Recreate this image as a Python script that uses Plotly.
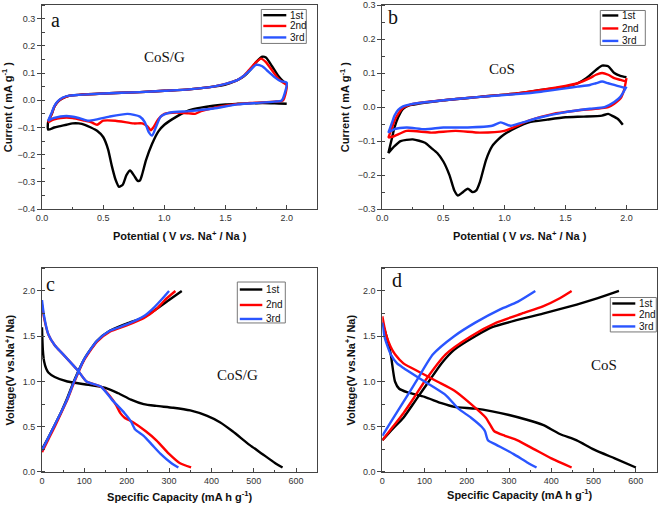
import plotly.graph_objects as go

W, H = 661, 505

# ---------------- Panel a : CV of CoS/G ----------------
a1_x = [2.0, 1.9, 1.8, 1.6, 1.5, 1.4, 1.3, 1.2, 1.1, 1.0, 0.95, 0.9, 0.85, 0.82, 0.8, 0.78, 0.75, 0.72, 0.69, 0.66, 0.63, 0.6, 0.57, 0.54, 0.5, 0.45, 0.4, 0.35, 0.3, 0.25, 0.2, 0.15, 0.1, 0.05,
        0.05, 0.08, 0.1, 0.13, 0.17, 0.22, 0.3, 0.5, 0.8, 1.0, 1.2, 1.4, 1.5, 1.6, 1.65, 1.7, 1.75, 1.8, 1.83, 1.88, 1.93, 1.97, 2.0]
a1_y = [-0.013, -0.011, -0.01, -0.013, -0.015, -0.02, -0.027, -0.037, -0.06, -0.09, -0.115, -0.16, -0.22, -0.27, -0.295, -0.295, -0.275, -0.258, -0.275, -0.31, -0.318, -0.29, -0.24, -0.18, -0.135, -0.112, -0.1, -0.09, -0.085, -0.085, -0.09, -0.095, -0.1, -0.108,
        -0.08, -0.05, -0.025, -0.005, 0.008, 0.016, 0.02, 0.025, 0.03, 0.035, 0.04, 0.05, 0.058, 0.075, 0.088, 0.11, 0.14, 0.16, 0.157, 0.125, 0.09, 0.07, 0.06]
a2_x = [2.0, 1.97, 1.9, 1.7, 1.5, 1.3, 1.25, 1.2, 1.1, 1.0, 0.95, 0.91, 0.89, 0.86, 0.82, 0.75, 0.6, 0.5, 0.45, 0.4, 0.35, 0.25, 0.15, 0.1, 0.05,
        0.05, 0.08, 0.1, 0.13, 0.17, 0.22, 0.3, 0.5, 0.8, 1.0, 1.2, 1.4, 1.5, 1.6, 1.65, 1.7, 1.75, 1.79, 1.83, 1.88, 1.93, 1.97, 2.0]
a2_y = [0.055, 0.0, -0.005, -0.01, -0.02, -0.04, -0.05, -0.048, -0.045, -0.05, -0.07, -0.1, -0.11, -0.095, -0.085, -0.085, -0.075, -0.075, -0.09, -0.08, -0.075, -0.065, -0.065, -0.07, -0.08,
        -0.08, -0.05, -0.025, -0.005, 0.008, 0.016, 0.02, 0.025, 0.03, 0.035, 0.04, 0.05, 0.06, 0.075, 0.09, 0.115, 0.14, 0.153, 0.14, 0.11, 0.08, 0.065, 0.055]
a3_x = [2.0, 1.96, 1.9, 1.6, 1.4, 1.2, 1.05, 0.97, 0.93, 0.9, 0.87, 0.84, 0.8, 0.7, 0.55, 0.45, 0.38, 0.3, 0.2, 0.1, 0.05,
        0.05, 0.08, 0.1, 0.13, 0.17, 0.22, 0.3, 0.5, 0.8, 1.0, 1.2, 1.4, 1.5, 1.6, 1.65, 1.7, 1.75, 1.8, 1.85, 1.9, 1.95, 2.0]
a3_y = [0.065, 0.0, -0.005, -0.015, -0.03, -0.04, -0.045, -0.06, -0.1, -0.13, -0.115, -0.08, -0.06, -0.05, -0.06, -0.07, -0.075, -0.065, -0.058, -0.065, -0.075,
        -0.075, -0.045, -0.022, -0.003, 0.01, 0.017, 0.02, 0.025, 0.03, 0.035, 0.04, 0.05, 0.06, 0.075, 0.09, 0.11, 0.13, 0.125, 0.105, 0.085, 0.07, 0.065]

# ---------------- Panel b : CV of CoS ----------------
b1_x = [1.97, 1.93, 1.88, 1.85, 1.8, 1.65, 1.5, 1.35, 1.2, 1.1, 1.0, 0.95, 0.9, 0.85, 0.8, 0.77, 0.74, 0.7, 0.66, 0.62, 0.59, 0.55, 0.5, 0.45, 0.4, 0.35, 0.25, 0.15, 0.1, 0.05,
        0.05, 0.08, 0.1, 0.13, 0.17, 0.22, 0.3, 0.5, 0.8, 1.1, 1.3, 1.5, 1.6, 1.67, 1.72, 1.77, 1.8, 1.85, 1.9, 1.95, 2.0]
b1_y = [-0.052, -0.035, -0.025, -0.02, -0.025, -0.028, -0.03, -0.037, -0.045, -0.06, -0.08, -0.095, -0.115, -0.155, -0.22, -0.245, -0.25, -0.24, -0.25, -0.26, -0.245, -0.2, -0.16, -0.135, -0.12, -0.105, -0.095, -0.1, -0.115, -0.135,
        -0.135, -0.09, -0.06, -0.03, -0.005, 0.005, 0.01, 0.02, 0.03, 0.04, 0.05, 0.06, 0.07, 0.085, 0.1, 0.115, 0.122, 0.12, 0.1, 0.092, 0.088]
b2_x = [2.0, 1.98, 1.95, 1.9, 1.85, 1.6, 1.4, 1.2, 1.0, 0.8, 0.6, 0.4, 0.2, 0.1, 0.05,
        0.05, 0.08, 0.1, 0.13, 0.17, 0.22, 0.3, 0.5, 0.8, 1.1, 1.3, 1.5, 1.6, 1.7, 1.75, 1.8, 1.85, 1.9, 1.95, 2.0]
b2_y = [0.085, 0.05, 0.025, 0.01, 0.0, -0.01, -0.02, -0.04, -0.07, -0.075, -0.07, -0.075, -0.07, -0.085, -0.09,
        -0.09, -0.06, -0.04, -0.02, -0.002, 0.006, 0.012, 0.02, 0.03, 0.04, 0.05, 0.062, 0.07, 0.085, 0.095, 0.1, 0.095, 0.085, 0.08, 0.075]
b3_x = [2.0, 1.95, 1.9, 1.82, 1.7, 1.5, 1.3, 1.15, 1.05, 0.97, 0.9, 0.7, 0.5, 0.35, 0.2, 0.1, 0.05,
        0.05, 0.08, 0.1, 0.13, 0.17, 0.22, 0.3, 0.5, 0.8, 1.1, 1.3, 1.5, 1.6, 1.7, 1.75, 1.8, 1.85, 1.9, 1.95, 2.0]
b3_y = [0.06, 0.03, 0.015, 0.0, -0.005, -0.015, -0.03, -0.045, -0.055, -0.045, -0.055, -0.06, -0.06, -0.065, -0.06, -0.065, -0.075,
        -0.075, -0.045, -0.025, -0.008, 0.002, 0.007, 0.012, 0.02, 0.03, 0.038, 0.045, 0.055, 0.06, 0.065, 0.07, 0.075, 0.07, 0.065, 0.06, 0.055]

# ---------------- Panel c : charge/discharge of CoS/G ----------------
c1_dis_x = [0, 2, 5, 10, 15, 30, 60, 100, 150, 180, 210, 240, 270, 310, 350, 390, 420, 450, 490, 520, 550, 568]
c1_dis_y = [1.6, 1.35, 1.22, 1.14, 1.1, 1.05, 1.0, 0.97, 0.93, 0.87, 0.8, 0.75, 0.73, 0.71, 0.68, 0.62, 0.55, 0.45, 0.3, 0.2, 0.1, 0.05]
c1_ch_x = [0, 15, 30, 45, 60, 75, 100, 130, 160, 200, 240, 270, 300, 330]
c1_ch_y = [0.25, 0.38, 0.52, 0.66, 0.82, 1.0, 1.25, 1.45, 1.56, 1.64, 1.71, 1.8, 1.9, 2.0]
c2_dis_x = [0, 5, 15, 30, 50, 85, 105, 140, 160, 175, 185, 195, 215, 245, 270, 300, 325, 352]
c2_dis_y = [1.85, 1.7, 1.52, 1.4, 1.3, 1.12, 1.0, 0.94, 0.84, 0.74, 0.65, 0.6, 0.55, 0.45, 0.35, 0.2, 0.1, 0.05]
c2_ch_x = [0, 15, 30, 45, 60, 75, 100, 130, 160, 200, 240, 270, 290, 315]
c2_ch_y = [0.22, 0.36, 0.5, 0.65, 0.8, 0.98, 1.24, 1.44, 1.55, 1.62, 1.7, 1.8, 1.9, 2.0]
c3_dis_x = [0, 5, 15, 30, 50, 85, 105, 140, 165, 195, 210, 220, 240, 260, 280, 305, 322]
c3_dis_y = [1.9, 1.72, 1.52, 1.4, 1.3, 1.12, 1.0, 0.94, 0.8, 0.65, 0.56, 0.47, 0.4, 0.3, 0.2, 0.1, 0.05]
c3_ch_x = [0, 15, 30, 45, 60, 75, 100, 130, 160, 200, 240, 265, 285, 300]
c3_ch_y = [0.24, 0.38, 0.52, 0.66, 0.81, 0.99, 1.25, 1.45, 1.56, 1.63, 1.72, 1.82, 1.92, 2.0]

# ---------------- Panel d : charge/discharge of CoS ----------------
d1_dis_x = [0, 10, 20, 30, 40, 60, 100, 140, 170, 220, 260, 300, 340, 380, 420, 460, 500, 550, 600]
d1_dis_y = [1.65, 1.5, 1.3, 1.0, 0.92, 0.88, 0.83, 0.76, 0.72, 0.7, 0.67, 0.63, 0.58, 0.52, 0.42, 0.35, 0.25, 0.15, 0.05]
d1_ch_x = [0, 25, 50, 80, 110, 140, 170, 220, 260, 320, 380, 460, 510, 560]
d1_ch_y = [0.35, 0.48, 0.6, 0.8, 1.0, 1.2, 1.35, 1.5, 1.6, 1.68, 1.75, 1.85, 1.92, 2.0]
d2_dis_x = [0, 5, 10, 20, 30, 50, 90, 130, 170, 210, 245, 258, 265, 290, 320, 360, 400, 448]
d2_dis_y = [1.72, 1.6, 1.5, 1.38, 1.3, 1.2, 1.1, 1.0, 0.9, 0.75, 0.6, 0.5, 0.45, 0.4, 0.35, 0.25, 0.15, 0.05]
d2_ch_x = [0, 25, 50, 75, 100, 150, 210, 270, 330, 380, 420, 448]
d2_ch_y = [0.35, 0.5, 0.65, 0.82, 1.0, 1.3, 1.5, 1.65, 1.75, 1.83, 1.92, 2.0]
d3_dis_x = [0, 5, 10, 20, 35, 50, 100, 150, 180, 210, 235, 243, 250, 270, 310, 345, 365]
d3_dis_y = [1.65, 1.5, 1.42, 1.3, 1.2, 1.15, 1.0, 0.85, 0.7, 0.6, 0.5, 0.45, 0.35, 0.3, 0.2, 0.1, 0.05]
d3_ch_x = [0, 20, 40, 60, 80, 120, 170, 220, 280, 320, 362]
d3_ch_y = [0.4, 0.55, 0.7, 0.85, 1.0, 1.3, 1.5, 1.65, 1.8, 1.88, 2.0]

cycle_names = ["1st", "2nd", "3rd"]
colors = ["#000000", "#ff0000", "#2a55ff"]

LW = 2.4
fig = go.Figure()

def add_line(x, y, i, xa, ya, grp):
    fig.add_trace(go.Scatter(x=x, y=y, mode="lines", name=cycle_names[i],
                             line=dict(color=colors[i], width=LW, shape="spline", smoothing=0.6),
                             xaxis=xa, yaxis=ya, showlegend=False,
                             legendgroup=grp + cycle_names[i]))

for i, (x, y) in enumerate([(a1_x, a1_y), (a2_x, a2_y), (a3_x, a3_y)]):
    add_line(x, y, i, "x", "y", "a")
for i, (x, y) in enumerate([(b1_x, b1_y), (b2_x, b2_y), (b3_x, b3_y)]):
    add_line(x, y, i, "x2", "y2", "b")
c_sets = [(c1_ch_x, c1_ch_y, c1_dis_x, c1_dis_y), (c2_ch_x, c2_ch_y, c2_dis_x, c2_dis_y), (c3_ch_x, c3_ch_y, c3_dis_x, c3_dis_y)]
for i, (cx, cy, dx, dy) in enumerate(c_sets):
    add_line(cx, cy, i, "x3", "y3", "c")
    add_line(dx, dy, i, "x3", "y3", "c")
d_sets = [(d1_ch_x, d1_ch_y, d1_dis_x, d1_dis_y), (d2_ch_x, d2_ch_y, d2_dis_x, d2_dis_y), (d3_ch_x, d3_ch_y, d3_dis_x, d3_dis_y)]
for i, (cx, cy, dx, dy) in enumerate(d_sets):
    add_line(cx, cy, i, "x4", "y4", "d")
    add_line(dx, dy, i, "x4", "y4", "d")

AX = "#444444"
tickfont = dict(family="Liberation Sans, Arial", size=9, color="#333333")
titlefont = dict(family="Liberation Sans, Arial", size=11, color="#111111", weight="bold")

# plot area (page pixels)
PL, PR, PT, PB = 41.7, 656.7, 4.5, 472.3

def fx(p):
    return (p - PL) / (PR - PL)

def fy(p):
    return (PB - p) / (PB - PT)

def xaxis(dom, rng, dtick, title, anchor, standoff, fmt):
    return dict(domain=dom, range=rng, dtick=dtick, tick0=0, showgrid=False, zeroline=False,
                showline=True, linecolor=AX, linewidth=1, mirror=True, automargin=False,
                ticks="inside", ticklen=4, tickcolor=AX, tickfont=tickfont, tickformat=fmt,
                minor=dict(ticks="inside", ticklen=2, tickcolor=AX, dtick=dtick / 2, tick0=0),
                title=dict(text=title, font=titlefont, standoff=standoff), anchor=anchor)

def yaxis(dom, rng, dtick, title, anchor, standoff, fmt):
    return dict(domain=dom, range=rng, dtick=dtick, tick0=0, showgrid=False, zeroline=False,
                showline=True, linecolor=AX, linewidth=1, mirror=True, automargin=False,
                ticks="outside", ticklen=4, tickcolor=AX, tickfont=tickfont, tickformat=fmt,
                minor=dict(ticks="inside", ticklen=3, tickcolor=AX, dtick=dtick / 2, tick0=0),
                title=dict(text=title, font=titlefont, standoff=standoff), anchor=anchor)

top_y = [fy(209), fy(4.5)]
bot_y = [fy(472.3), fy(268.3)]
left_x = [fx(41.7), fx(317)]
right_x = [fx(382), fx(656.7)]

pot_title = "Potential ( V <i>vs.</i> Na<sup>+</sup> / Na )"
cur_title = "Current ( mA g<sup>-1</sup> )"
cap_title = "Specific Capacity (mA h g<sup>-1</sup>)"
vol_title = "Voltage(V vs.Na<sup>+</sup>/ Na)"

fig.update_layout(
    width=W, height=H,
    margin=dict(l=PL, r=W - PR, t=PT, b=H - PB, autoexpand=False),
    paper_bgcolor="white", plot_bgcolor="white", showlegend=False,
    xaxis=xaxis(left_x, [0, 2.25], 0.5, pot_title, "y", 10, ".1f"),
    yaxis=yaxis(top_y, [-0.4, 0.35], 0.1, cur_title, "x", 5, ".1f"),
    xaxis2=xaxis(right_x, [0, 2.25], 0.5, pot_title, "y2", 10, ".1f"),
    yaxis2=yaxis(top_y, [-0.3, 0.3], 0.1, cur_title, "x2", 5, ".1f"),
    xaxis3=xaxis(left_x, [0, 650], 100, cap_title, "y3", 8, "d"),
    yaxis3=yaxis(bot_y, [0, 2.25], 0.5, vol_title, "x3", 5, ".1f"),
    xaxis4=xaxis(right_x, [0, 650], 100, cap_title, "y4", 6, "d"),
    yaxis4=yaxis(bot_y, [0, 2.25], 0.5, vol_title, "x4", 5, ".1f"),
)

# ---- per-panel legend boxes (box left, top, right, bottom, line x0, x1, row ys, text x) ----
legend_boxes = [
    (261, 9, 306, 43, 263, 286, [14.7, 25.5, 37], 288),
    (600, 10, 645, 45, 602, 618, [15, 28, 40.5], 619.5),
    (237, 282, 285, 323, 239.5, 262, [289.5, 305, 319], 263.5),
    (610, 297.5, 656, 332, 612, 635, [303.5, 315, 326.5], 637),
]
shapes = []
for (bl, bt, br, bb, lx0, lx1, rows, tx) in legend_boxes:
    shapes.append(dict(type="rect", xref="paper", yref="paper", x0=fx(bl), x1=fx(br), y0=fy(bb), y1=fy(bt),
                       line=dict(color="#777777", width=1), fillcolor="white", layer="above"))
    for i, ry in enumerate(rows):
        shapes.append(dict(type="line", xref="paper", yref="paper", x0=fx(lx0), x1=fx(lx1), y0=fy(ry), y1=fy(ry),
                           line=dict(color=colors[i], width=LW), layer="above"))
        fig.add_annotation(text=cycle_names[i], x=fx(tx), y=fy(ry), xref="paper", yref="paper",
                           showarrow=False, xanchor="left", yanchor="middle",
                           font=dict(family="Liberation Sans, Arial", size=10, color="#111111"))
fig.update_layout(shapes=shapes)

serif = "Liberation Serif, Times New Roman"
labels = [
    ("a", 55, 20, 20),
    ("b", 393, 17, 20),
    ("c", 50, 284, 20),
    ("d", 397, 280, 20),
    ("CoS/G", 164, 57, 15),
    ("CoS", 502, 69, 15),
    ("CoS/G", 237, 375, 15),
    ("CoS", 604, 365, 15),
]
for t, px, py, sz in labels:
    fig.add_annotation(text=t, x=fx(px), y=fy(py), xref="paper", yref="paper",
                       showarrow=False, xanchor="center", yanchor="middle",
                       font=dict(family=serif, size=sz, color="#111111"))

fig.write_html("out.html", config={"displayModeBar": False},
               post_script="document.body.style.margin='0';document.body.style.overflow='hidden';")
